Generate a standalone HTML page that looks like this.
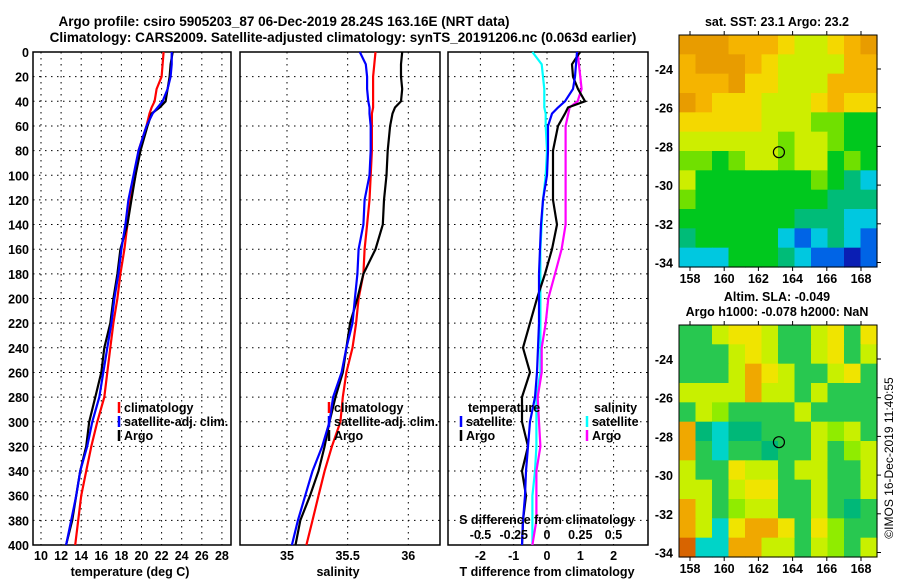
<!DOCTYPE html>
<html><head><meta charset="utf-8"><style>
html,body{margin:0;padding:0;background:#fff}
svg{display:block;font-family:"Liberation Sans",sans-serif;font-weight:bold}
</style></head><body>
<svg id="c" width="900" height="580" viewBox="0 0 900 580" xmlns="http://www.w3.org/2000/svg">
<text x="284" y="26" font-size="13.5" text-anchor="middle">Argo profile: csiro 5905203_87 06-Dec-2019 28.24S 163.16E (NRT data)</text>
<text x="343" y="42" font-size="13.5" text-anchor="middle">Climatology: CARS2009. Satellite-adjusted climatology: synTS_20191206.nc (0.063d earlier)</text>
<g id="p1"></g>
<g id="p2"></g>
<g id="p3"></g>
<g id="m1"></g>
<g id="m2"></g>
<text transform="translate(893,458) rotate(-90)" font-size="12" font-weight="normal" text-anchor="middle">©IMOS 16-Dec-2019 11:40:55</text>
</svg>
<script>
const depths=[0,10,20,30,40,45,50,60,80,100,120,140,160,180,200,220,240,260,280,300,320,340,360,380,400];
const tempClim=[22.2,22.1,22.0,21.5,21.3,21.0,20.8,20.5,19.7,19.4,18.9,18.6,18.3,17.9,17.6,17.2,16.9,16.6,16.3,15.6,15.0,14.5,14.0,13.7,13.4];
const tempSat=[23.0,23.0,22.9,22.6,22.1,21.6,21.1,20.5,19.7,19.2,18.7,18.4,18.0,17.7,17.3,17.0,16.6,16.2,15.8,15.1,14.6,13.9,13.5,13.0,12.5];
const tempArgo=[23.1,22.9,22.8,22.6,22.4,21.8,21.0,20.6,19.9,19.4,19.0,18.6,17.9,17.6,17.2,16.9,16.3,16.0,15.4,14.8,14.5,13.9,13.5,13.1,12.5];
const salClim=[35.73,35.72,35.71,35.71,35.71,35.71,35.70,35.70,35.70,35.69,35.68,35.66,35.64,35.63,35.59,35.57,35.54,35.49,35.46,35.44,35.37,35.31,35.26,35.21,35.16];
const salSat=[35.60,35.65,35.66,35.66,35.67,35.68,35.68,35.69,35.69,35.68,35.64,35.63,35.59,35.58,35.56,35.54,35.49,35.45,35.38,35.35,35.29,35.21,35.15,35.09,35.04];
const salArgo=[35.95,35.94,35.94,35.95,35.94,35.89,35.87,35.85,35.83,35.82,35.80,35.79,35.73,35.63,35.58,35.52,35.49,35.46,35.40,35.35,35.31,35.26,35.19,35.11,35.07];
const tDiffSat=[0.90,0.87,0.84,0.78,0.54,0.33,0.15,0.03,0.03,0,-0.12,-0.18,-0.21,-0.24,-0.24,-0.24,-0.27,-0.30,-0.36,-0.51,-0.57,-0.63,-0.66,-0.72,-0.75];
const tDiffArgo=[0.99,0.75,0.78,0.93,1.14,0.63,0.54,0.33,0.18,0.18,0.18,0.30,0.15,-0.06,-0.30,-0.51,-0.72,-0.51,-0.75,-0.75,-0.57,-0.75,-0.63,-0.72,-0.75];
const sDiffSat=[-0.11,-0.04,-0.03,-0.02,-0.02,-0.02,-0.01,-0.01,0,-0.01,-0.03,-0.04,-0.05,-0.05,-0.05,-0.05,-0.05,-0.05,-0.08,-0.08,-0.08,-0.09,-0.11,-0.11,-0.11];
const sDiffArgo=[0.23,0.24,0.25,0.26,0.23,0.17,0.16,0.14,0.14,0.14,0.14,0.14,0.11,0.06,0.01,-0.01,-0.04,-0.04,-0.07,-0.06,-0.05,-0.08,-0.08,-0.08,-0.11];
const depthTicks=[0,20,40,60,80,100,120,140,160,180,200,220,240,260,280,300,320,340,360,380,400];
const tempTicks=[10,12,14,16,18,20,22,24,26,28];
const salTicks=[35,35.5,36];
const salTickLabels=["35","35.5","36"];
const tdTicks=[-2,-1,0,1,2];
const sdTicks=[-0.5,-0.25,0,0.25,0.5];
const sdTickLabels=["-0.5","-0.25","0","0.25","0.5"];
const sstGrid=["OOOoooYyyYoO","oOOOoYyyyyoo","oooOYYyyyooo","OoYYYyyyYoYY","YYYYYyyyggGG","yyyyyygyygGG","ggGgyygyyGgG","yGGGGGGGgGTC","gGGGGGGGGTTT","GGGGGGGTTTCC","TGGGGGCBCTCB","CCCGGGTCBBDB"];
const slaGrid=["GGyYYyGGyYGY","GGGyYyGGyYGy","GGGyOYyGGyYG","yyyyOyyGyGGG","GygGGGGyGGGG","OTCTTGGGygyG","OGCGGTGGyGgy","yGGYyyGyyGGy","yyGyYYGGyGGy","OyGgyyGGyGTG","OyCYOOYGYgGG","DCCOOyyGygGy"];
const mapXTicks=[158,160,162,164,166,168];
const mapYTicks=[-24,-26,-28,-30,-32,-34];
const argoLon=163.2, argoLat=-28.3;

const NS="http://www.w3.org/2000/svg";
function mk(parent,tag,attrs,txt){const e=document.createElementNS(NS,tag);for(const k in attrs)e.setAttribute(k,attrs[k]);if(txt!==undefined)e.textContent=txt;parent.appendChild(e);return e;}
const Y0=52,Y1=545;
const yD=d=>Y0+(Y1-Y0)*d/400;
const xT=t=>41+(t-10)*10.05;
const xS=s=>287+(s-35)*121.3;
const xTD=t=>547+t*33.3;
const xSD=s=>547+s*133;

function panel(g,x0,x1,vx,vticks,vlabels,showDepth){
  for(const d of depthTicks){
    const l=mk(g,'line',{x1:x0,x2:x1,y1:yD(d),y2:yD(d),stroke:'#000','stroke-width':1,'stroke-dasharray':'1.5 4.5'});
    
    if(showDepth){const t=mk(g,'text',{x:29,y:yD(d)+5,'font-size':12.5,'text-anchor':'end'},String(d));
      }
  }
  vticks.forEach((v,i)=>{
    const l=mk(g,'line',{x1:vx(v),x2:vx(v),y1:Y0,y2:Y1,stroke:'#000','stroke-width':1,'stroke-dasharray':'1.5 4.5'});
    
    const t=mk(g,'text',{x:vx(v),y:560,'font-size':12.5,'text-anchor':'middle'},vlabels[i]);
    
  });
  const r=mk(g,'rect',{x:x0,y:Y0,width:x1-x0,height:Y1-Y0,fill:'none',stroke:'#000','stroke-width':1.5});
  
}
function series(g,vals,xf,color,name){
  const pts=vals.map((v,i)=>xf(v).toFixed(1)+','+yD(depths[i]).toFixed(1)).join(' ');
  const p=mk(g,'polyline',{points:pts,fill:'none',stroke:color,'stroke-width':2.2});
  
}
function legend(g,x,y,color,label){
  if(color){const b=mk(g,'line',{x1:x,x2:x,y1:y-10,y2:y+1,stroke:color,'stroke-width':2.5});
    }
  const t=mk(g,'text',{x:x+5,y:y,'font-size':12.5},label);
  
}
const p1=document.getElementById('p1'),p2=document.getElementById('p2'),p3=document.getElementById('p3');
panel(p1,33,231,xT,tempTicks,tempTicks.map(String),true);
series(p1,tempClim,xT,'#ff0000','temp-climatology-line');
series(p1,tempArgo,xT,'#000','temp-argo-line');
series(p1,tempSat,xT,'#0000ff','temp-satellite-line');
legend(p1,119,412,'#ff0000','climatology');legend(p1,119,426,'#0000ff','satellite-adj. clim.');legend(p1,119,440,'#000','Argo');
let t=mk(p1,'text',{x:130,y:576,'font-size':12.5,'text-anchor':'middle'},'temperature (deg C)');


panel(p2,240,440,xS,salTicks,salTickLabels,false);
series(p2,salClim,xS,'#ff0000','sal-climatology-line');
series(p2,salArgo,xS,'#000','sal-argo-line');
series(p2,salSat,xS,'#0000ff','sal-satellite-line');
legend(p2,329,412,'#ff0000','climatology');legend(p2,329,426,'#0000ff','satellite-adj. clim.');legend(p2,329,440,'#000','Argo');
t=mk(p2,'text',{x:338,y:576,'font-size':12.5,'text-anchor':'middle'},'salinity');


panel(p3,448,648,xTD,tdTicks,tdTicks.map(String),false);
series(p3,sDiffSat,xSD,'#00ffff','sdiff-satellite-line');
series(p3,sDiffArgo,xSD,'#ff00ff','sdiff-argo-line');
series(p3,tDiffArgo,xTD,'#000','tdiff-argo-line');
series(p3,tDiffSat,xTD,'#0000ff','tdiff-satellite-line');
legend(p3,463,412,null,'temperature');legend(p3,461,426,'#0000ff','satellite');legend(p3,461,440,'#000','Argo');
legend(p3,589,412,null,'salinity');legend(p3,587,426,'#00ffff','satellite');legend(p3,587,440,'#ff00ff','Argo');
t=mk(p3,'text',{x:547,y:524,'font-size':12.5,'text-anchor':'middle'},'S difference from climatology');

sdTicks.forEach((v,i)=>{const e=mk(p3,'text',{x:xSD(v),y:539,'font-size':12.5,'text-anchor':'middle'},sdTickLabels[i]);
  });
t=mk(p3,'text',{x:547,y:576,'font-size':12.5,'text-anchor':'middle'},'T difference from climatology');


const sstCol={O:'#e89c00',o:'#f5b400',Y:'#f4d800',y:'#cdee00',g:'#70e000',G:'#00c81e',T:'#00bc78',C:'#00c8e0',B:'#0064e6',D:'#0a1eb4'};
const slaCol={O:'#f0a800',D:'#d86400',Y:'#f0e400',y:'#c8f000',g:'#90ec00',G:'#28c850',T:'#00b878',C:'#00d4c8'};
function map(id,grid,cols,top,titles,name){
  const g=document.getElementById(id);
  const x0=679,x1=877,y0=top,y1=top+232;
  const lx=lon=>690+(lon-158)*17.1, ly=lat=>(top+34)+(-24-lat)*19.35;
  const cw=(x1-x0)/12,ch=(y1-y0)/12;
  grid.forEach((row,r)=>{[...row].forEach((c,k)=>{
    const e=mk(g,'rect',{x:(x0+k*cw).toFixed(2),y:(y0+r*ch).toFixed(2),width:(cw+0.6).toFixed(2),height:(ch+0.6).toFixed(2),fill:cols[c]});
    
  });});
  const f=mk(g,'rect',{x:x0,y:y0,width:x1-x0,height:y1-y0,fill:'none',stroke:'#000','stroke-width':1});
  
  for(const v of mapXTicks){
    const e=mk(g,'text',{x:lx(v),y:y1+16,'font-size':12.5,'text-anchor':'middle'},String(v));
    
    mk(g,'line',{x1:lx(v),x2:lx(v),y1:y1,y2:y1+4,stroke:'#000'});
    mk(g,'line',{x1:lx(v),x2:lx(v),y1:y0,y2:y0-4,stroke:'#000'});
  }
  for(const v of mapYTicks){
    const e=mk(g,'text',{x:673,y:ly(v)+5,'font-size':12.5,'text-anchor':'end'},String(v));
    
    mk(g,'line',{x1:x1,x2:x1+4,y1:ly(v),y2:ly(v),stroke:'#000'});
  }
  const c=mk(g,'circle',{cx:lx(argoLon),cy:ly(argoLat),r:5.5,fill:'none',stroke:'#000','stroke-width':1.2});
  
  titles.forEach((s,i)=>{const e=mk(g,'text',{x:777,y:top-9-15*(titles.length-1-i),'font-size':12.5,'text-anchor':'middle'},s);
    });
}
map('m1',sstGrid,sstCol,35,['sat. SST: 23.1 Argo: 23.2'],'sst-map');
map('m2',slaGrid,slaCol,325,['Altim. SLA: -0.049','Argo h1000: -0.078 h2000: NaN'],'sla-map');
</script>
</body></html>
